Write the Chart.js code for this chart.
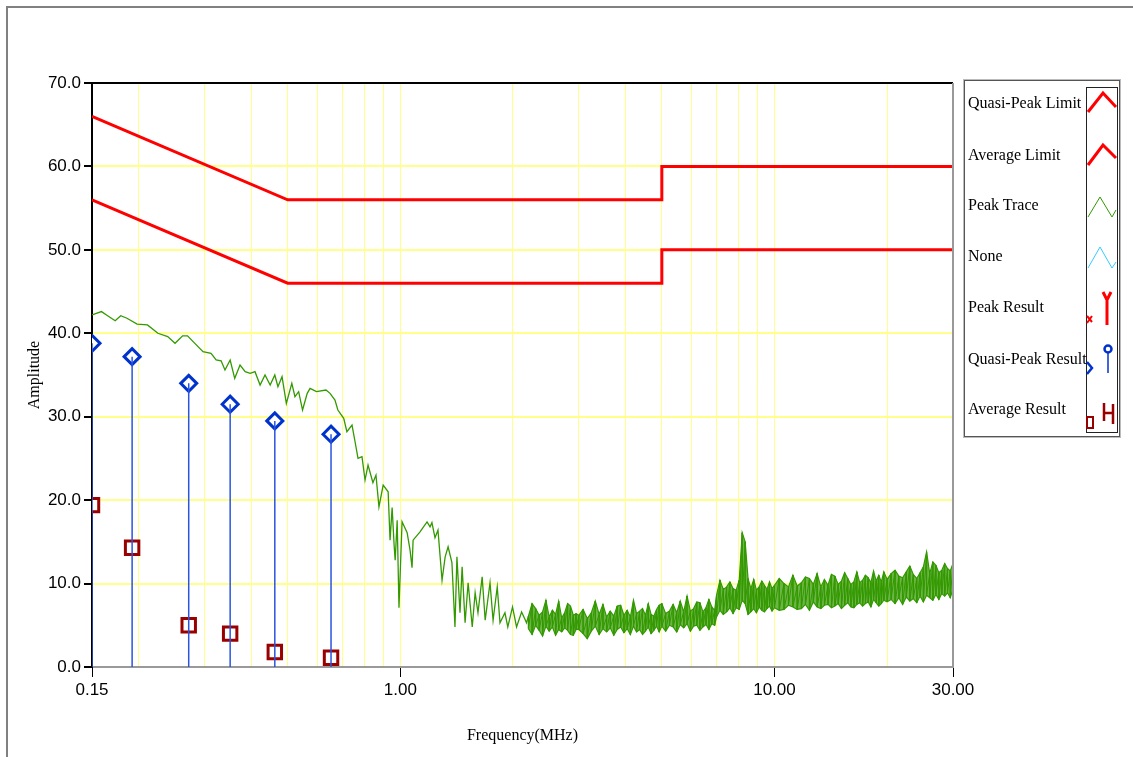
<!DOCTYPE html>
<html>
<head>
<meta charset="utf-8">
<script src="https://cdn.jsdelivr.net/npm/chart.js@4/dist/chart.umd.min.js"></script>
<style>
  body { margin: 0; background: #fff; width: 1133px; height: 757px; overflow: hidden; position: relative; }
  #frame { position: absolute; left: 6px; top: 6px; width: 1140px; height: 770px; border-top: 2px solid #808080; border-left: 2px solid #808080; }
  #c { position: absolute; left: 0; top: 0; }
  #legend { position: absolute; left: 964px; top: 80px; width: 154px; height: 355px; border: 1px solid #555; outline: 1px solid #bbb; font-family: 'Liberation Serif', 'Times New Roman', serif; font-size: 16px; color: #000; }
  #legend span { position: absolute; left: 3px; white-space: nowrap; line-height: 18px; }
  #symcol { position: absolute; left: 121px; top: 6px; width: 30px; height: 344px; border: 1px solid #222; }
  #sym { position: absolute; left: 0; top: 0; }
</style>
</head>
<body>
<div id="frame"></div>
<canvas id="c" width="1133" height="757"></canvas>
<div id="legend">
  <div id="symcol"></div>
  <span style="top:13px">Quasi-Peak Limit</span>
  <span style="top:65px">Average Limit</span>
  <span style="top:115px">Peak Trace</span>
  <span style="top:166px">None</span>
  <span style="top:217px">Peak Result</span>
  <span style="top:269px">Quasi-Peak Result</span>
  <span style="top:319px">Average Result</span>
</div>
<svg id="sym" width="1133" height="757">
  <polyline points="1088,112 1103,93 1116,107" fill="none" stroke="#ff0000" stroke-width="3"/>
  <polyline points="1088,165 1103,145 1116,158" fill="none" stroke="#ff0000" stroke-width="3"/>
  <polyline points="1088,217 1100,197 1112,217 1116,210" fill="none" stroke="#339900" stroke-width="1"/>
  <polyline points="1088,268 1100,247 1112,268 1116,262" fill="none" stroke="#33ccff" stroke-width="1"/>
  <path d="M1087,316 L1092,322 M1092,316 L1087,323" stroke="#ff0000" stroke-width="2"/>
  <path d="M1107,300 V325 M1103,292 L1107,300 L1111,292" stroke="#ff0000" stroke-width="3" fill="none"/>
  <path d="M1087,362 L1092,368 L1087,374" stroke="#0033cc" stroke-width="2.5" fill="none"/>
  <circle cx="1108" cy="349" r="3.5" fill="#fff" stroke="#0033cc" stroke-width="2.5"/>
  <path d="M1108,353 V373" stroke="#0033cc" stroke-width="1.5"/>
  <rect x="1087" y="417" width="6" height="11" fill="#fff" stroke="#990000" stroke-width="2"/>
  <path d="M1104,403 V421 M1104,413 H1113 M1113,404 V424" stroke="#990000" stroke-width="2.5" fill="none"/>
</svg>
<script>
// limites (MHz / dBuV)
const limitFreq = [0.15, 0.5, 5, 5, 30];
const qpLimit = [66, 56, 56, 60, 60];
const avgLimit = [56, 46, 46, 50, 50];

// resultados medidos
const resultFreq = [0.150, 0.192, 0.272, 0.351, 0.462, 0.653];
const qpResult = [38.8, 37.2, 34.0, 31.5, 29.5, 27.9];
const avgResult = [19.4, 14.3, 5.0, 4.0, 1.8, 1.1];

// traza de pico, parte baja frecuencia (leida punto a punto)
const peakFreq = [
  0.150, 0.159, 0.164, 0.173, 0.179, 0.186, 0.198, 0.211, 0.225, 0.239,
  0.250, 0.262, 0.270, 0.288, 0.297, 0.312, 0.322, 0.332, 0.340, 0.351,
  0.361, 0.373, 0.385, 0.397, 0.409, 0.422, 0.435, 0.449, 0.462, 0.471,
  0.483, 0.496, 0.513, 0.523, 0.535, 0.548, 0.564, 0.574, 0.597, 0.633,
  0.649, 0.669, 0.681, 0.706, 0.720, 0.743, 0.757, 0.771, 0.790, 0.805,
  0.820, 0.845, 0.861, 0.877, 0.900, 0.928, 0.939, 0.951, 0.963, 0.969,
  0.981, 0.992, 1.011, 1.043, 1.062, 1.075, 1.082, 1.129, 1.179, 1.201,
  1.215, 1.238, 1.261, 1.293, 1.318, 1.342, 1.374, 1.400, 1.417, 1.444,
  1.463, 1.490, 1.518, 1.557, 1.585, 1.613, 1.655, 1.686, 1.737, 1.770,
  1.816, 1.847, 1.904, 1.938, 1.995, 2.045, 2.110, 2.175, 2.20
];
const peakAmp = [
  42.2, 42.6, 42.2, 41.5, 42.1, 41.8, 41.1, 41.0, 40.0, 39.6,
  38.8, 39.7, 39.7, 38.4, 37.8, 37.6, 36.8, 36.7, 35.6, 36.8,
  34.6, 36.2, 35.4, 35.2, 35.4, 33.8, 35.0, 33.8, 35.0, 33.6,
  34.8, 31.6, 34.0, 32.4, 33.0, 30.8, 32.8, 33.4, 33.0, 33.2,
  32.8, 32.0, 30.8, 29.8, 28.2, 29.0, 27.0, 25.0, 25.2, 22.4,
  24.2, 22.1, 23.0, 19.2, 21.8, 21.0, 15.2, 19.1, 14.5, 12.8,
  17.6, 7.1, 17.4, 16.1, 14.0, 11.9, 15.2, 16.2, 17.4, 16.8,
  17.3, 15.5, 16.4, 10.4, 13.2, 14.4, 12.5, 4.8, 13.2, 6.5,
  12.0, 5.3, 10.1, 4.8, 8.9, 6.5, 10.8, 5.6, 10.1, 5.6,
  9.6, 5.3, 6.5, 4.8, 7.2, 4.8, 6.6, 5.3, 6.1
];

// traza de pico, parte alta frecuencia: envolvente superior e inferior
const bandFreq = [
  2.20, 2.25, 2.30, 2.35, 2.40, 2.45, 2.50, 2.55, 2.60, 2.65,
  2.70, 2.75, 2.80, 2.85, 2.90, 2.95,
  3.00, 3.08, 3.16, 3.24, 3.32, 3.40, 3.48, 3.56, 3.64, 3.72,
  3.80, 3.88, 3.96, 4.04, 4.12, 4.20, 4.28, 4.36, 4.44, 4.52,
  4.60, 4.68, 4.76, 4.84, 4.92,
  5.00, 5.12, 5.24, 5.36, 5.48, 5.60, 5.72, 5.84, 5.96, 6.08,
  6.20, 6.32, 6.44, 6.56, 6.68, 6.80, 6.92,
  7.00, 7.15, 7.30, 7.45, 7.60, 7.75, 7.90, 8.05, 8.20, 8.35,
  8.50, 8.65, 8.80, 8.95, 9.10, 9.25, 9.40, 9.55, 9.70, 9.85,
  10.0, 10.3, 10.6, 10.9, 11.2, 11.5, 11.8, 12.1, 12.4, 12.7,
  13.0, 13.3, 13.6, 13.9, 14.2, 14.5, 14.8, 15.1, 15.4, 15.7,
  16.0, 16.3, 16.6, 16.9, 17.2, 17.5, 17.8, 18.1, 18.4, 18.7,
  19.0, 19.3, 19.6,
  20.0, 20.5, 21.0, 21.5, 22.0, 22.5, 23.0, 23.5, 24.0, 24.5,
  25.0, 25.5, 26.0, 26.5, 27.0, 27.5, 28.0, 28.5, 29.0, 29.5, 30.0
];
const bandHi = [
  6.1, 7.6, 7.0, 6.2, 6.6, 8.0, 6.0, 6.8, 6.3, 7.9,
  5.9, 6.5, 7.6, 7.3, 6.2, 6.4,
  6.2, 6.9, 5.8, 6.5, 7.9, 6.3, 7.5, 6.0, 6.7, 6.1,
  7.3, 7.4, 6.2, 6.8, 6.0, 8.0, 6.4, 6.7, 7.0, 6.2,
  7.6, 6.3, 6.1, 6.9, 7.4,
  7.6, 6.4, 6.7, 7.5, 6.5, 7.9, 6.6, 8.5, 6.7, 7.0,
  7.8, 7.7, 6.6, 7.1, 8.1, 7.2, 6.8,
  8.6, 10.4, 9.3, 9.6, 10.2, 9.4, 9.2, 10.4, 16.1, 15.0,
  10.6, 9.4, 10.5, 9.2, 9.6, 10.3, 9.8, 9.3, 10.2, 9.4,
  9.8, 10.6, 10.0, 9.6, 11.0, 9.7, 10.1, 10.8, 10.6, 9.9,
  11.2, 9.6, 10.5, 9.8, 11.1, 10.9, 9.9, 10.3, 11.3, 10.6,
  9.9, 10.2, 11.4, 10.1, 10.4, 11.0, 10.7, 10.1, 11.5, 10.3,
  11.0, 10.2, 11.4,
  10.5, 11.2, 11.6, 10.9, 10.7, 11.4, 12.1, 11.1, 10.6, 11.3,
  12.0, 13.8, 11.2, 12.6, 12.2, 11.3, 11.6, 12.4, 11.8, 11.5, 12.4
];
const bandLo = [
  4.6, 3.9, 5.0, 4.4, 3.7, 4.9, 4.3, 4.8, 3.8, 4.5,
  4.2, 4.7, 4.4, 3.9, 3.8, 4.5,
  4.5, 4.0, 3.4, 4.3, 4.9, 3.9, 4.6, 4.2, 4.7, 3.8,
  4.5, 4.8, 4.1, 4.6, 3.9, 4.9, 4.2, 4.5, 3.9, 4.3,
  4.8, 4.0, 4.4, 4.9, 4.2,
  4.9, 4.3, 5.0, 4.8, 4.2, 5.1, 4.7, 5.2, 4.3, 4.9,
  5.0, 4.4, 4.8, 5.1, 4.5, 5.2, 5.0,
  6.0, 6.8, 6.3, 6.6, 7.1, 6.4, 7.1, 6.9, 8.0, 7.6,
  6.3, 6.6, 7.0, 6.5, 7.2, 6.8, 6.6, 7.0, 7.3, 6.7,
  7.1, 6.8, 6.9, 7.4, 7.2, 6.9, 7.0, 7.5, 6.8, 7.8,
  7.2, 7.0, 7.4, 7.5, 7.1, 7.3, 7.6, 7.0, 7.4, 7.7,
  7.2, 7.1, 7.5, 7.7, 7.3, 7.6, 7.8, 7.2, 8.1, 7.7,
  7.3, 7.6, 8.0,
  7.8, 8.1, 7.6, 8.3, 7.5, 8.4, 7.9, 8.2, 7.7, 8.5,
  7.8, 8.6, 8.3, 8.0, 8.7, 8.1, 8.8, 8.5, 8.9, 8.3, 9.3
];

// ticks del eje X
const xGridValues = [0.15, 0.2, 0.3, 0.4, 0.5, 0.6, 0.7, 0.8, 0.9, 1, 2, 3, 4, 5, 6, 7, 8, 9, 10, 20, 30];
const xLabelValues = [0.15, 1, 10, 30];

const pts = (fs, vs) => fs.map((f, i) => ({ x: f, y: vs[i] }));
const stems = resultFreq.flatMap((f, i) => [{ x: f, y: 0 }, { x: f, y: qpResult[i] }, { x: f, y: null }]);
const bandZigzag = bandFreq.flatMap((f, i) => [{ x: f, y: bandHi[i] }, { x: f, y: bandLo[i] }]);

const tickFont = { family: "'Liberation Sans Narrow', 'Liberation Sans', Arial, sans-serif", size: 17 };
const titleFont = { family: "'Liberation Serif', 'Times New Roman', serif", size: 16 };
const green = '#339900';
const yellow = '#ffff8a';
const none = 'rgba(0,0,0,0)';

// marco superior y derecho del area de trazado
const framePlugin = {
    id: 'frame',
    afterDraw(chart) {
        const a = chart.chartArea, c = chart.ctx;
        c.save();
        c.lineWidth = 2;
        c.strokeStyle = '#000';
        c.beginPath(); c.moveTo(a.left - 1, a.top); c.lineTo(a.right, a.top); c.stroke();
        c.strokeStyle = '#999';
        c.beginPath(); c.moveTo(a.right, a.top); c.lineTo(a.right, a.bottom + 1); c.stroke();
        c.restore();
    }
};

new Chart(document.getElementById('c').getContext('2d'), {
    type: 'scatter',
    data: {
        datasets: [
            { data: pts(peakFreq, peakAmp), showLine: true, borderColor: green, borderWidth: 1.3, pointRadius: 0, clip: 0 },
            { data: pts(bandFreq, bandHi), showLine: true, borderColor: green, borderWidth: 1.2, pointRadius: 0, clip: 0, fill: '+1', backgroundColor: 'rgba(51,153,0,0.72)' },
            { data: pts(bandFreq, bandLo), showLine: true, borderColor: green, borderWidth: 1.2, pointRadius: 0, clip: 0 },
            { data: bandZigzag, showLine: true, borderColor: green, borderWidth: 1, pointRadius: 0, clip: 0 },
            { data: pts(limitFreq, qpLimit), showLine: true, borderColor: '#ff0000', borderWidth: 3, pointRadius: 0 },
            { data: pts(limitFreq, avgLimit), showLine: true, borderColor: '#ff0000', borderWidth: 3, pointRadius: 0 },
            { data: stems, showLine: true, spanGaps: false, borderColor: '#2b55e0', borderWidth: 1.5, pointRadius: 0, clip: 0 },
            { data: pts(resultFreq, qpResult), pointStyle: 'rectRot', pointRadius: 8, backgroundColor: '#fff', borderColor: '#0033cc', borderWidth: 3, clip: 0 },
            { data: pts(resultFreq, avgResult), pointStyle: 'rect', pointRadius: 9.5, backgroundColor: '#fff', borderColor: '#990000', borderWidth: 3, clip: 0 },
            { data: pts(resultFreq, avgResult), pointStyle: 'rect', pointRadius: 1.4, backgroundColor: '#990000', borderWidth: 0, clip: 0 }
        ]
    },
    options: {
        responsive: false,
        animation: false,
        layout: { padding: { left: 25, top: 83, right: 180, bottom: 12 } },
        plugins: { legend: { display: false }, tooltip: { enabled: false }, filler: { propagate: false } },
        scales: {
            x: {
                type: 'logarithmic',
                min: 0.15,
                max: 30,
                afterBuildTicks: s => { s.ticks = xGridValues.map(v => ({ value: v })); },
                afterFit: s => { s.height = 78; },
                ticks: {
                    autoSkip: false, maxRotation: 0, padding: 3, color: '#000', font: tickFont,
                    callback: v => xLabelValues.includes(v) ? v.toFixed(2) : ''
                },
                grid: {
                    color: c => (c.tick && (c.tick.value === 0.15 || c.tick.value === 30)) ? none : yellow,
                    lineWidth: 1,
                    tickLength: 10,
                    tickColor: c => (c.tick && xLabelValues.includes(c.tick.value)) ? '#000' : none
                },
                border: { color: '#999', width: 2 },
                title: { display: true, text: 'Frequency(MHz)', color: '#000', font: titleFont, padding: 0 }
            },
            y: {
                min: 0,
                max: 70,
                afterFit: s => { s.width = 67; },
                ticks: { stepSize: 10, padding: 3, color: '#000', font: tickFont, callback: v => v.toFixed(1) },
                grid: {
                    color: c => (c.tick && (c.tick.value === 0 || c.tick.value === 70)) ? none : yellow,
                    lineWidth: 2,
                    tickLength: 8,
                    tickColor: '#000'
                },
                border: { color: '#000', width: 2 },
                title: { display: true, text: 'Amplitude', color: '#000', font: titleFont, padding: 0 }
            }
        }
    },
    plugins: [framePlugin]
});
</script>
</body>
</html>
